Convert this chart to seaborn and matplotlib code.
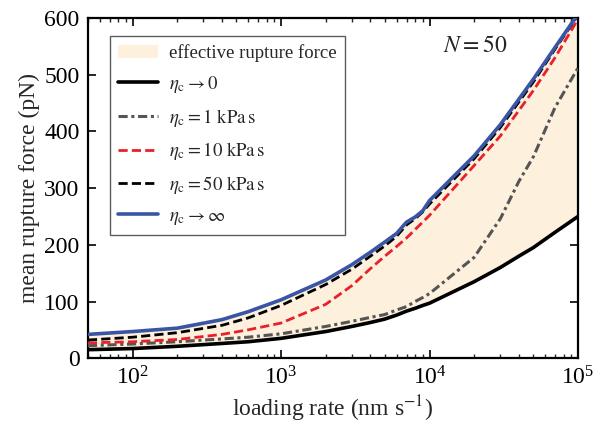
import matplotlib
matplotlib.use("Agg")
import matplotlib.pyplot as plt
import seaborn as sns
import pandas as pd
import numpy as np
from matplotlib.ticker import LogLocator, NullFormatter, FixedLocator

rate = [50, 100, 200, 400, 600, 1000, 2000, 3000, 4000, 5000, 6000, 7000, 8000, 9000,
        10000, 20000, 30000, 40000, 50000, 70000, 100000]
f_zero = [15, 17, 21, 26, 29, 35, 47, 56, 63, 69, 76, 83, 88, 93, 97, 135, 160, 180, 195, 222, 250]
f_1k = [22, 25, 29, 34, 37, 43, 56, 65, 72, 77, 85, 91, 100, 107, 114, 178, 246, 312, 355, 442, 512]
f_10k = [27, 29, 33, 42, 50, 62, 95, 128, 158, 180, 197, 212, 227, 240, 252, 340, 392, 437, 472, 530, 598]
f_50k = [32, 37, 45, 58, 71, 93, 130, 157, 180, 198, 215, 235, 246, 258, 272, 352, 407, 452, 487, 545, 605]
f_inf = [42, 47, 53, 68, 82, 103, 138, 165, 187, 205, 220, 240, 249, 260, 278, 357, 412, 457, 492, 548, 607]

labels = [r"$\eta_{\mathrm{c}}\rightarrow 0$",
          r"$\eta_{\mathrm{c}} = 1\ \mathrm{kPa\,s}$",
          r"$\eta_{\mathrm{c}} = 10\ \mathrm{kPa\,s}$",
          r"$\eta_{\mathrm{c}} = 50\ \mathrm{kPa\,s}$",
          r"$\eta_{\mathrm{c}}\rightarrow \infty$"]

sns.set_theme(style="ticks")
plt.rcParams["font.family"] = ["Liberation Serif", "DejaVu Serif"]
plt.rcParams["mathtext.fontset"] = "stix"

fig = plt.figure(figsize=(5.94, 4.30), dpi=100)
ax = fig.add_axes([0.148, 0.167, 0.825, 0.791])

ax.fill_between(rate, f_zero, f_inf, color="#fdf0dc", linewidth=0,
                label="effective rupture force", zorder=1)

series = [f_zero, f_1k, f_10k, f_50k, f_inf]
colors = ["black", "#555555", "#e8202a", "black", "#3a55a4"]
styles = ["-", (0, (3, 1.2, 1, 1.2)), (0, (3.3, 1.5)), (0, (3.3, 1.5)), "-"]
widths = [2.6, 2.2, 2.0, 2.0, 2.6]
for vals, lab, c, ls, lw in zip(series, labels, colors, styles, widths):
    df = pd.DataFrame({"rate": rate, "force": vals})
    sns.lineplot(data=df, x="rate", y="force", ax=ax, color=c, linestyle=ls,
                 linewidth=lw, label=lab, zorder=3)

ax.set_xscale("log")
ax.set_xlim(50, 1e5)
ax.set_ylim(0, 600)
ax.yaxis.set_major_locator(FixedLocator([0, 100, 200, 300, 400, 500, 600]))
ax.xaxis.set_major_locator(LogLocator(base=10, numticks=10))
ax.xaxis.set_minor_locator(LogLocator(base=10, subs=np.arange(2, 10), numticks=20))
ax.xaxis.set_minor_formatter(NullFormatter())

ax.tick_params(axis="both", which="major", direction="in", length=6, width=1.2,
               top=True, right=True, labelsize=17, pad=6, colors="black")
ax.tick_params(axis="both", which="minor", direction="in", length=3, width=1.0,
               top=True, right=True)
for s in ax.spines.values():
    s.set_linewidth(1.6)
    s.set_color("black")

ax.set_xlabel(r"loading rate (nm s$^{-1}$)", fontsize=17, labelpad=3)
ax.set_ylabel("mean rupture force (pN)", fontsize=17, labelpad=3)

ax.text(0.79, 0.915, r"$N = 50$", transform=ax.transAxes, fontsize=17,
        ha="center", va="center")

leg = ax.legend(loc="upper left", bbox_to_anchor=(0.045, 0.947), borderaxespad=0,
                fancybox=False, edgecolor="#333333", fontsize=13.5, handlelength=2.1,
                labelspacing=0.62, borderpad=0.45, handletextpad=0.6)
leg.get_frame().set_linewidth(1.0)

fig.savefig("out.png", dpi=100)
